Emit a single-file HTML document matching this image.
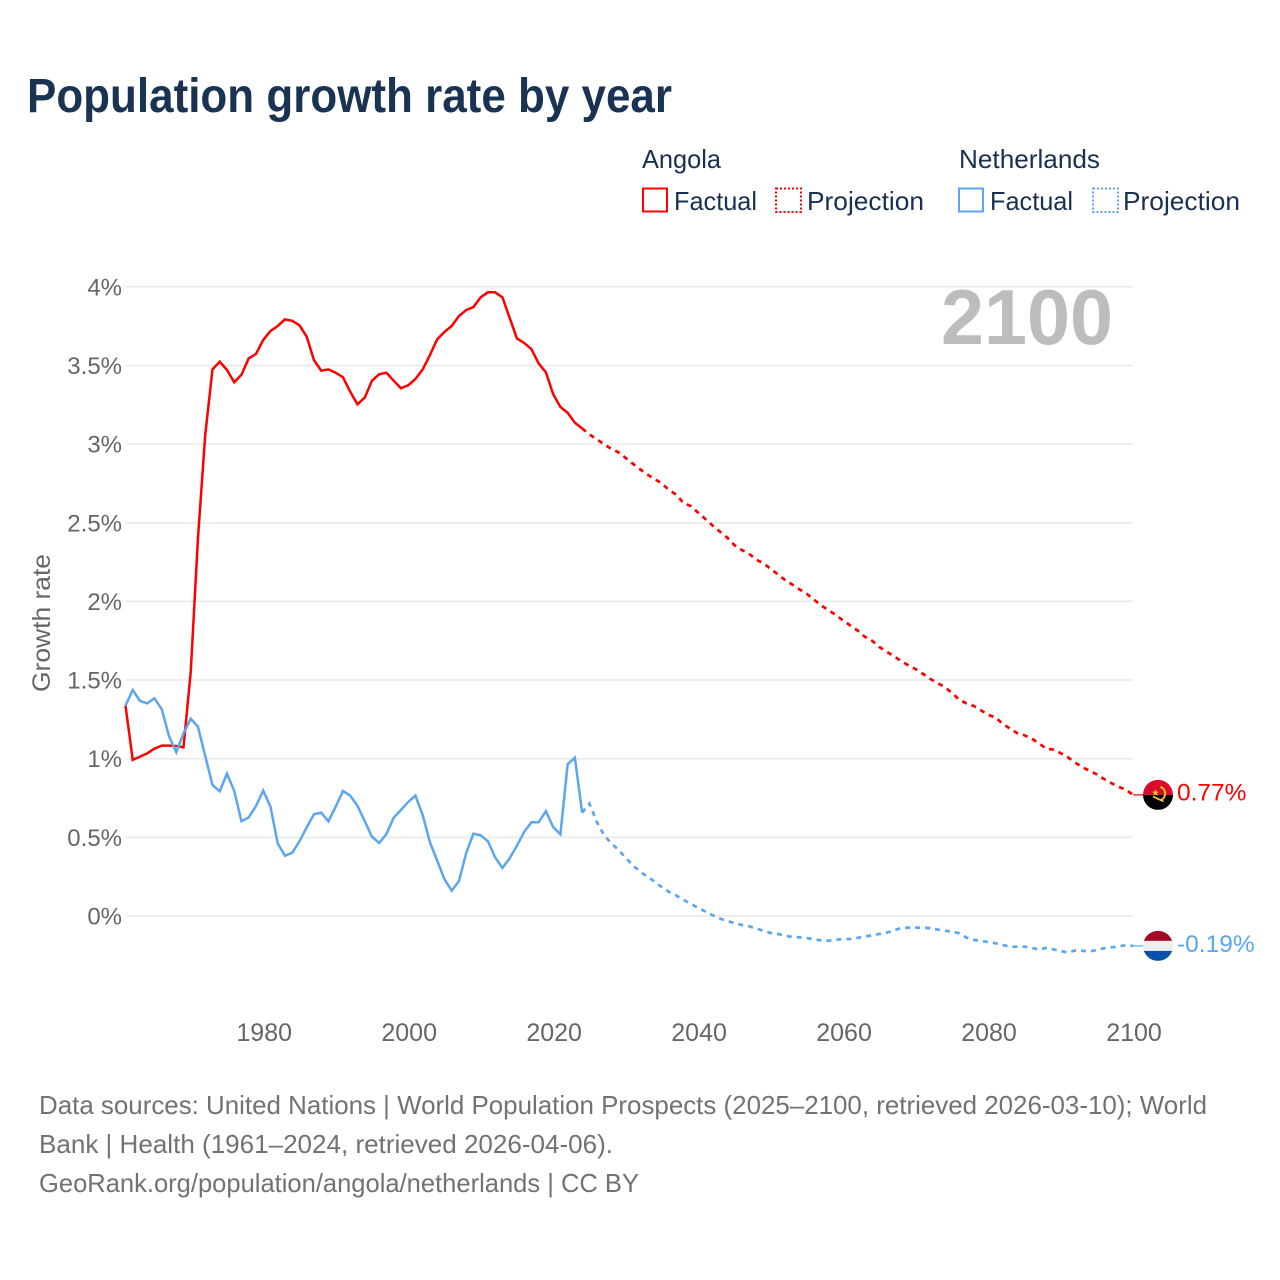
<!DOCTYPE html>
<html lang="en">
<head>
<meta charset="utf-8">
<title>Population growth rate by year</title>
<style>
html,body{margin:0;padding:0;background:#fff;width:1280px;height:1280px;overflow:hidden}
svg{display:block;font-family:"Liberation Sans",sans-serif}
</style>
</head>
<body>
<svg id="chart" xmlns="http://www.w3.org/2000/svg" width="1280" height="1280" viewBox="0 0 1280 1280">
  <defs>
    <clipPath id="angola-clip"><circle cx="0" cy="0" r="15"/></clipPath>
    <clipPath id="netherlands-clip"><circle cx="0" cy="0" r="15"/></clipPath>
  </defs>
  <rect x="0" y="0" width="1280" height="1280" fill="#ffffff"/>
  <text x="27" y="112" font-size="48" font-weight="700" fill="#1a3353" textLength="645" lengthAdjust="spacingAndGlyphs">Population growth rate by year</text>

  <g font-size="26" fill="#1a3050">
    <text x="642" y="168" textLength="79" lengthAdjust="spacingAndGlyphs">Angola</text>
    <rect x="643" y="188.5" width="24" height="23" fill="none" stroke="#ff0000" stroke-width="2"/>
    <text x="674" y="210" textLength="83" lengthAdjust="spacingAndGlyphs">Factual</text>
    <rect x="776" y="188.5" width="25" height="23.5" fill="none" stroke="#ff0000" stroke-width="2" stroke-dasharray="2 2"/>
    <text x="807" y="210" textLength="117" lengthAdjust="spacingAndGlyphs">Projection</text>
    <text x="959" y="168" textLength="141" lengthAdjust="spacingAndGlyphs">Netherlands</text>
    <rect x="959" y="188.5" width="24" height="23" fill="none" stroke="#5ca6ee" stroke-width="2"/>
    <text x="990" y="210" textLength="83" lengthAdjust="spacingAndGlyphs">Factual</text>
    <rect x="1093" y="188.5" width="25" height="23.5" fill="none" stroke="#5ca6ee" stroke-width="2" stroke-dasharray="2 2"/>
    <text x="1123" y="210" textLength="117" lengthAdjust="spacingAndGlyphs">Projection</text>
  </g>

  <g id="grid"></g>
  <g id="y-ticks"></g>
  <g id="x-ticks"></g>
  <text transform="translate(50,692) rotate(-90)" font-size="25" fill="#666666" textLength="138" lengthAdjust="spacingAndGlyphs">Growth rate</text>
  <text x="941" y="344" font-size="78" font-weight="700" fill="#bdbdbd" textLength="172" lengthAdjust="spacingAndGlyphs">2100</text>
  <g id="series"></g>

  <g id="flag-angola">
    <g clip-path="url(#angola-clip)">
      <rect x="-15" y="-15" width="30" height="15" fill="#d90a2c"/>
      <rect x="-15" y="0" width="30" height="15" fill="#000000"/>
      <path d="M2.5,-8 A7,7 0 0 1 3,5" fill="none" stroke="#f5c52c" stroke-width="2"/>
      <path d="M-5,1.5 L5.5,6.5" stroke="#f5c52c" stroke-width="1.8" fill="none"/>
      <path d="M-2.5,-5.5 l1,2.2 2.3,0.2 -1.8,1.5 0.6,2.3 -2.1,-1.2 -2.1,1.2 0.6,-2.3 -1.8,-1.5 2.3,-0.2z" fill="#f5c52c"/>
    </g>
  </g>
  <g id="flag-netherlands">
    <g clip-path="url(#netherlands-clip)">
      <rect x="-15" y="-15" width="30" height="10" fill="#a00a24"/>
      <rect x="-15" y="-5" width="30" height="10" fill="#eeeeee"/>
      <rect x="-15" y="5" width="30" height="10" fill="#0a50ad"/>
    </g>
  </g>

  <g font-size="26" fill="#727272">
    <text x="39" y="1114" textLength="1168" lengthAdjust="spacingAndGlyphs">Data sources: United Nations | World Population Prospects (2025–2100, retrieved 2026-03-10); World</text>
    <text x="39" y="1153" textLength="574" lengthAdjust="spacingAndGlyphs">Bank | Health (1961–2024, retrieved 2026-04-06).</text>
    <text x="39" y="1192" textLength="600" lengthAdjust="spacingAndGlyphs">GeoRank.org/population/angola/netherlands | CC BY</text>
  </g>
</svg>

<script>
var firstYear = 1961;
var lastFactualYear = 2024;
var lastYear = 2100;
var yTickValues = [0, 0.5, 1, 1.5, 2, 2.5, 3, 3.5, 4];
var yTickLabels = ['0%', '0.5%', '1%', '1.5%', '2%', '2.5%', '3%', '3.5%', '4%'];
var xTickLabels = [1980, 2000, 2020, 2040, 2060, 2080, 2100];

/* Values 1961..2024 */
var angolaFactual = [
1.337,0.992,1.013,1.034,1.064,1.083,1.083,1.081,1.072,1.551,
2.403,3.058,3.475,3.524,3.471,3.393,3.441,3.545,3.573,3.662,
3.719,3.751,3.793,3.784,3.755,3.683,3.534,3.467,3.475,3.454,
3.425,3.333,3.253,3.295,3.403,3.444,3.454,3.403,3.355,3.374,
3.414,3.475,3.566,3.666,3.713,3.751,3.814,3.852,3.871,3.933,
3.965,3.965,3.933,3.803,3.672,3.643,3.604,3.513,3.456,3.318,
3.236,3.199,3.136,3.100];

/* Values 2025..2100 */
var angolaProjection = [
3.061,3.032,2.999,2.971,2.948,2.912,2.875,2.840,2.807,2.778,
2.749,2.708,2.678,2.625,2.606,2.564,2.524,2.482,2.444,2.406,
2.358,2.327,2.304,2.266,2.242,2.208,2.171,2.136,2.107,2.076,
2.048,2.011,1.973,1.945,1.913,1.879,1.847,1.815,1.775,1.750,
1.710,1.680,1.652,1.621,1.594,1.570,1.540,1.508,1.481,1.457,
1.419,1.376,1.352,1.336,1.308,1.279,1.263,1.223,1.192,1.163,
1.149,1.129,1.098,1.065,1.057,1.036,1.009,0.977,0.945,0.924,
0.900,0.871,0.845,0.821,0.804,0.770];

/* Values 1961..2024 */
var netherlandsFactual = [
1.337,1.437,1.367,1.352,1.384,1.314,1.144,1.041,1.161,1.254,
1.203,1.017,0.833,0.793,0.905,0.795,0.602,0.627,0.699,0.797,
0.695,0.462,0.383,0.402,0.475,0.564,0.647,0.657,0.602,0.695,
0.795,0.765,0.701,0.604,0.504,0.464,0.521,0.625,0.674,0.725,
0.765,0.642,0.469,0.352,0.235,0.161,0.222,0.399,0.523,0.513,
0.475,0.373,0.305,0.367,0.447,0.534,0.596,0.596,0.666,0.566,
0.519,0.964,1.006,0.657];

/* Values 2025..2100 */
var netherlandsProjection = [
0.715,0.601,0.515,0.463,0.420,0.371,0.322,0.281,0.251,0.219,
0.183,0.153,0.130,0.103,0.077,0.052,0.028,0.005,-0.016,-0.032,
-0.045,-0.057,-0.065,-0.079,-0.094,-0.108,-0.114,-0.126,-0.133,-0.136,
-0.140,-0.149,-0.155,-0.157,-0.151,-0.147,-0.146,-0.139,-0.130,-0.123,
-0.114,-0.106,-0.092,-0.077,-0.074,-0.074,-0.075,-0.077,-0.086,-0.093,
-0.100,-0.109,-0.137,-0.151,-0.159,-0.165,-0.173,-0.184,-0.195,-0.195,
-0.195,-0.202,-0.214,-0.203,-0.212,-0.221,-0.233,-0.219,-0.221,-0.226,
-0.216,-0.205,-0.200,-0.193,-0.186,-0.190];

var NS = 'http://www.w3.org/2000/svg';

function xScale(year) {
  return 125.5 + (year - firstYear) * (1133 - 125.5) / (lastYear - firstYear);
}
function yScale(value) {
  return 916 - value * 157.3;
}
function make(tag, parent) {
  var el = document.createElementNS(NS, tag);
  parent.appendChild(el);
  return el;
}
function linePath(values, startYear, prefix) {
  var d = prefix;
  for (var i = 0; i < values.length; i++) {
    d += (d ? ' L' : 'M') + xScale(startYear + i).toFixed(2) + ',' + yScale(values[i]).toFixed(2);
  }
  return d;
}

var gridGroup = document.getElementById('grid');
var yTickGroup = document.getElementById('y-ticks');
var xTickGroup = document.getElementById('x-ticks');
var seriesGroup = document.getElementById('series');

yTickValues.forEach(function (value, i) {
  var line = make('line', gridGroup);
  
  
  line.setAttribute('x1', 125.5);
  line.setAttribute('x2', xScale(lastYear));
  line.setAttribute('y1', yScale(value));
  line.setAttribute('y2', yScale(value));
  line.setAttribute('stroke', '#e9e9e9');
  line.setAttribute('stroke-width', '1.5');

  var label = make('text', yTickGroup);
  
  
  label.setAttribute('x', 122);
  label.setAttribute('y', yScale(value) + 8.5);
  label.setAttribute('text-anchor', 'end');
  label.setAttribute('font-size', '24');
  label.setAttribute('fill', '#666666');
  label.textContent = yTickLabels[i];
});

xTickLabels.forEach(function (year) {
  var label = make('text', xTickGroup);
  
  
  label.setAttribute('x', xScale(year) + 1);
  label.setAttribute('y', 1041);
  label.setAttribute('text-anchor', 'middle');
  label.setAttribute('font-size', '25');
  label.setAttribute('fill', '#666666');
  label.textContent = year;
});

function drawCountry(name, color, factual, projection, flagId, labelText, labelDy) {
  var solid = make('path', seriesGroup);
  
  
  solid.setAttribute('d', linePath(factual, firstYear, ''));
  solid.setAttribute('fill', 'none');
  solid.setAttribute('stroke', color);
  solid.setAttribute('stroke-width', '2.5');
  solid.setAttribute('stroke-linejoin', 'miter');

  var lastFactual = factual[factual.length - 1];
  var startPoint = 'M' + xScale(lastFactualYear).toFixed(2) + ',' + yScale(lastFactual).toFixed(2);
  var dashed = make('path', seriesGroup);
  
  
  dashed.setAttribute('d', linePath(projection, lastFactualYear + 1, startPoint));
  dashed.setAttribute('fill', 'none');
  dashed.setAttribute('stroke', color);
  dashed.setAttribute('stroke-width', '2.7');
  dashed.setAttribute('stroke-dasharray', '5 5');

  var endValue = projection[projection.length - 1];
  var endX = xScale(lastYear);
  var endY = yScale(endValue);

  var connector = make('line', seriesGroup);
  
  
  connector.setAttribute('x1', endX);
  connector.setAttribute('x2', endX + 10);
  connector.setAttribute('y1', endY);
  connector.setAttribute('y2', endY);
  connector.setAttribute('stroke', color);
  connector.setAttribute('stroke-width', '1.2');

  document.getElementById(flagId).setAttribute('transform', 'translate(' + (endX + 25) + ',' + endY + ')');

  var label = make('text', seriesGroup);
  
  
  label.setAttribute('x', endX + 44);
  label.setAttribute('y', endY + labelDy);
  label.setAttribute('font-size', '24.5');
  label.setAttribute('fill', color);
  label.textContent = labelText;
}

drawCountry('angola', '#ff0000', angolaFactual, angolaProjection, 'flag-angola', angolaProjection[angolaProjection.length - 1].toFixed(2) + '%', 5.5);
drawCountry('netherlands', '#5ca6ee', netherlandsFactual, netherlandsProjection, 'flag-netherlands', netherlandsProjection[netherlandsProjection.length - 1].toFixed(2) + '%', 6);
</script>
</body>
</html>
